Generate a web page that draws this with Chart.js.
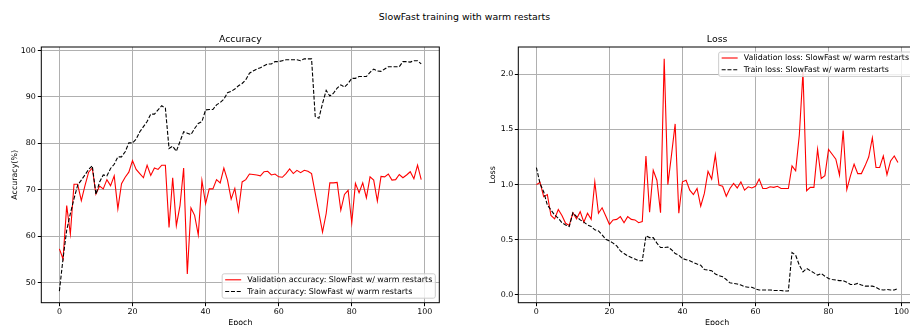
<!DOCTYPE html>
<html><head><meta charset="utf-8">
<script src="https://cdn.jsdelivr.net/npm/chart.js@4.4.1/dist/chart.umd.min.js"></script>
<style>
html,body{margin:0;padding:0;background:#fff;overflow:hidden;width:910px;height:325px;position:relative}
#sup{position:absolute;left:0;width:929px;top:11px;text-align:center;font-family:"DejaVu Sans";font-size:9.4px;line-height:12px;color:#000}
#c1{position:absolute;left:0;top:0}
#c2{position:absolute;left:455px;top:0}
</style></head><body>
<div id="sup">SlowFast training with warm restarts</div>
<canvas id="c1" width="455" height="340"></canvas>
<canvas id="c2" width="470" height="340"></canvas>
<script>
const epochs = [0,1,2,3,4,5,6,7,8,9,10,11,12,13,14,15,16,17,18,19,20,21,22,23,24,25,26,27,28,29,30,31,32,33,34,35,36,37,38,39,40,41,42,43,44,45,46,47,48,49,50,51,52,53,54,55,56,57,58,59,60,61,62,63,64,65,66,67,68,69,70,71,72,73,74,75,76,77,78,79,80,81,82,83,84,85,86,87,88,89,90,91,92,93,94,95,96,97,98,99];

const valAcc = [57.3,55.1,66.6,60.5,71.2,71.2,67.7,70.9,73.8,74.7,
69.1,70.8,70.2,72.2,70.9,73.0,65.9,71.3,72.7,73.8,
76.3,74.4,73.5,72.6,75.3,73.1,74.7,74.4,75.3,75.3,
61.9,72.6,62.3,66.6,74.7,51.9,66.1,64.5,60.3,72.0,
67.0,70.2,70.2,72.2,71.5,74.7,72.1,68.0,70.3,65.5,
71.7,72.2,73.4,73.3,73.2,73.0,73.9,74.0,73.2,73.4,
72.8,72.7,73.5,74.5,73.5,74.2,73.7,74.2,74.0,73.5,
69.3,65.1,60.9,64.9,71.5,71.5,71.6,65.6,69.0,69.9,
62.9,71.4,69.4,71.5,68.3,72.8,72.1,67.6,72.9,72.8,
73.4,72.1,72.2,73.3,72.6,73.2,73.9,72.4,75.3,72.2];

const trainAcc = [48.2,55.2,61.3,64.9,68.1,71.0,72.1,73.2,74.4,75.2,
69.0,71.7,73.2,73.0,74.6,75.5,77.1,77.1,78.2,80.1,
80.1,80.9,82.5,83.6,84.7,86.3,86.3,87.2,88.1,87.6,
78.9,79.4,78.3,80.4,82.5,82.2,81.9,83.2,84.3,84.7,
87.2,87.3,87.3,88.3,88.8,89.5,90.9,91.2,91.7,92.4,
92.9,93.7,95.1,95.6,96.0,96.3,96.7,97.1,97.1,97.6,
97.6,97.8,98.0,98.0,98.0,98.0,97.8,98.2,98.2,98.2,
85.8,85.4,88.6,91.4,90.2,90.8,91.9,92.6,92.1,92.9,
94.0,94.0,94.4,94.4,94.4,95.3,96.0,95.6,95.5,96.0,
96.5,96.5,96.5,96.5,97.6,97.6,97.5,97.8,97.8,97.1];

const valLoss = [1.00,1.02,0.89,0.91,0.72,0.69,0.775,0.72,0.65,0.63,
0.745,0.69,0.755,0.66,0.74,0.685,1.025,0.74,0.79,0.715,
0.64,0.68,0.685,0.71,0.655,0.71,0.685,0.68,0.655,0.665,
1.26,0.75,1.13,1.04,0.745,2.14,1.00,1.27,1.55,0.74,
1.025,1.04,0.95,0.91,0.965,0.805,0.92,1.12,1.05,1.27,
0.995,0.985,0.895,0.965,1.01,0.97,1.025,0.95,0.98,0.97,
0.985,1.05,0.965,0.965,0.98,0.975,0.985,0.965,0.965,0.965,
1.17,1.125,1.45,2.02,0.945,0.975,0.975,1.32,1.055,1.08,
1.32,1.275,1.23,1.085,1.49,0.955,1.08,1.185,1.10,1.10,
1.17,1.25,1.425,1.155,1.155,1.26,1.09,1.215,1.26,1.20];

const trainLoss = [1.155,1.01,0.935,0.815,0.77,0.725,0.695,0.655,0.635,0.62,
0.745,0.71,0.68,0.66,0.635,0.62,0.59,0.58,0.545,0.505,
0.49,0.47,0.445,0.40,0.375,0.355,0.34,0.325,0.31,0.31,
0.535,0.52,0.52,0.47,0.43,0.43,0.435,0.41,0.375,0.36,
0.33,0.32,0.31,0.295,0.28,0.27,0.23,0.225,0.22,0.19,
0.175,0.165,0.14,0.11,0.105,0.10,0.09,0.075,0.07,0.07,
0.055,0.045,0.045,0.045,0.045,0.042,0.04,0.04,0.036,0.036,
0.385,0.36,0.27,0.21,0.24,0.22,0.20,0.18,0.195,0.17,
0.15,0.14,0.135,0.13,0.13,0.115,0.095,0.095,0.105,0.09,
0.08,0.08,0.08,0.07,0.05,0.045,0.05,0.045,0.045,0.06];

const epochTicks = [0,20,40,60,80,100];
const epochTickLabels = ['0','20','40','60','80','100'];
const accTicks = [50,60,70,80,90,100];
const accTickLabels = ['50','60','70','80','90','100'];
const lossTicks = [0,0.5,1.0,1.5,2.0];
const lossTickLabels = ['0.0','0.5','1.0','1.5','2.0'];

const FONT = 'DejaVu Sans';
const CH = 340;
const SMALL = 7.9;
const BIG = 9.4;

const framePlugin = {
  id: 'mplFrame',
  afterDraw(chart, args, opts) {
    const {ctx, chartArea: a} = chart;
    ctx.save();
    ctx.strokeStyle = '#000';
    ctx.lineWidth = 1;
    ctx.setLineDash([]);
    ctx.strokeRect(a.left, a.top, a.right - a.left, a.bottom - a.top);
    // legend
    ctx.font = SMALL + 'px "' + FONT + '"';
    const dsets = chart.data.datasets;
    const tw = Math.max(...dsets.map(d => ctx.measureText(d.label).width));
    const w = 3 + 16 + 6 + tw + 3;
    const h = 24.4;
    const x = a.right - 4 - w;
    const y = opts.loc === 'lower right' ? a.bottom - 4.5 - h : a.top + 5;
    ctx.beginPath();
    if (ctx.roundRect) ctx.roundRect(x, y, w, h, 2); else ctx.rect(x, y, w, h);
    ctx.fillStyle = 'rgba(255,255,255,0.8)';
    ctx.fill();
    ctx.strokeStyle = '#cccccc';
    ctx.lineWidth = 1;
    ctx.stroke();
    const rows = [y + 6, y + 17.7];
    dsets.forEach((d, i) => {
      ctx.beginPath();
      ctx.strokeStyle = d.borderColor;
      ctx.lineWidth = d.borderWidth;
      ctx.setLineDash(d.borderDash || []);
      ctx.moveTo(x + 3, rows[i]);
      ctx.lineTo(x + 19, rows[i]);
      ctx.stroke();
      ctx.setLineDash([]);
      ctx.fillStyle = '#000';
      ctx.textBaseline = 'middle';
      ctx.textAlign = 'left';
      ctx.fillText(d.label, x + 25, rows[i]);
    });
    ctx.restore();
  }
};

function build(id, cfg) {
  const datasets = [
    {label: cfg.valLabel, data: cfg.val.map((v, i) => ({x: epochs[i], y: v})),
     borderColor: '#ff0000', backgroundColor: '#ff0000', borderWidth: 1.1, pointRadius: 0, tension: 0, fill: false, order: 2},
    {label: cfg.trainLabel, data: cfg.train.map((v, i) => ({x: epochs[i], y: v})),
     borderColor: '#000000', backgroundColor: '#000000', borderWidth: 1.1, borderDash: [4, 1.8], pointRadius: 0, tension: 0, fill: false, order: 1}
  ];
  const tickFont = {family: FONT, size: SMALL};
  return new Chart(document.getElementById(id), {
    type: 'line',
    data: {datasets},
    options: {
      responsive: false, animation: false, devicePixelRatio: 1,
      layout: {padding: {left: 0, right: cfg.padRight, top: 0, bottom: 0}},
      plugins: {
        legend: {display: false},
        tooltip: {enabled: false},
        title: {display: true, text: cfg.title, fullSize: false, color: '#000',
                font: {family: FONT, size: BIG, weight: 'normal', lineHeight: 1.2},
                padding: {top: 33.66, bottom: 2.06}},
        mplFrame: {loc: cfg.legendLoc}
      },
      scales: {
        x: {
          type: 'linear', bounds: 'data', min: -4.95, max: 103.95,
          afterBuildTicks: s => { s.ticks = epochTicks.map(v => ({value: v})); },
          afterFit: s => { s.height = CH - 302.7; },
          ticks: {autoSkip: false, maxRotation: 0, padding: 1, color: '#000', font: tickFont,
                  callback: v => epochTickLabels[epochTicks.indexOf(v)]},
          grid: {color: '#b0b0b0', lineWidth: 1, tickColor: '#000', tickLength: 3.5, drawTicks: true},
          border: {display: false},
          title: {display: true, text: 'Epoch', color: '#000', font: {family: FONT, size: SMALL, lineHeight: 1.2}, padding: {top: 0, bottom: 12.76}}
        },
        y: {
          type: 'linear', bounds: 'data', min: cfg.yMin, max: cfg.yMax,
          afterBuildTicks: s => { s.ticks = cfg.yTicks.map(v => ({value: v})); },
          afterFit: s => { s.width = cfg.yWidth; },
          ticks: {autoSkip: false, padding: cfg.yPad, color: '#000', font: tickFont,
                  callback: v => cfg.yTickLabels[cfg.yTicks.indexOf(v)]},
          grid: {color: '#b0b0b0', lineWidth: 1, tickColor: '#000', tickLength: 3.5, drawTicks: true},
          border: {display: false},
          title: {display: true, text: cfg.yTitle, color: '#000', font: {family: FONT, size: SMALL, lineHeight: 1.2}, padding: {top: cfg.yTitlePad, bottom: 0}}
        }
      }
    },
    plugins: [framePlugin]
  });
}

build('c1', {
  title: 'Accuracy', yTitle: 'Accuracy(%)',
  valLabel: 'Validation accuracy: SlowFast w/ warm restarts',
  trainLabel: 'Train accuracy: SlowFast w/ warm restarts',
  val: valAcc, train: trainAcc,
  yMin: 45.7, yMax: 100.75, yTicks: accTicks, yTickLabels: accTickLabels,
  yWidth: 41.3, yPad: 2, yTitlePad: 9.76, padRight: 455 - 439.3, legendLoc: 'lower right'
});
build('c2', {
  title: 'Loss', yTitle: 'Loss',
  valLabel: 'Validation loss: SlowFast w/ warm restarts',
  trainLabel: 'Train loss: SlowFast w/ warm restarts',
  val: valLoss, train: trainLoss,
  yMin: -0.07, yMax: 2.247, yTicks: lossTicks, yTickLabels: lossTickLabels,
  yWidth: 63.3, yPad: 1.5, yTitlePad: 33.56, padRight: 470 - 461, legendLoc: 'upper right'
});
</script>
</body></html>
